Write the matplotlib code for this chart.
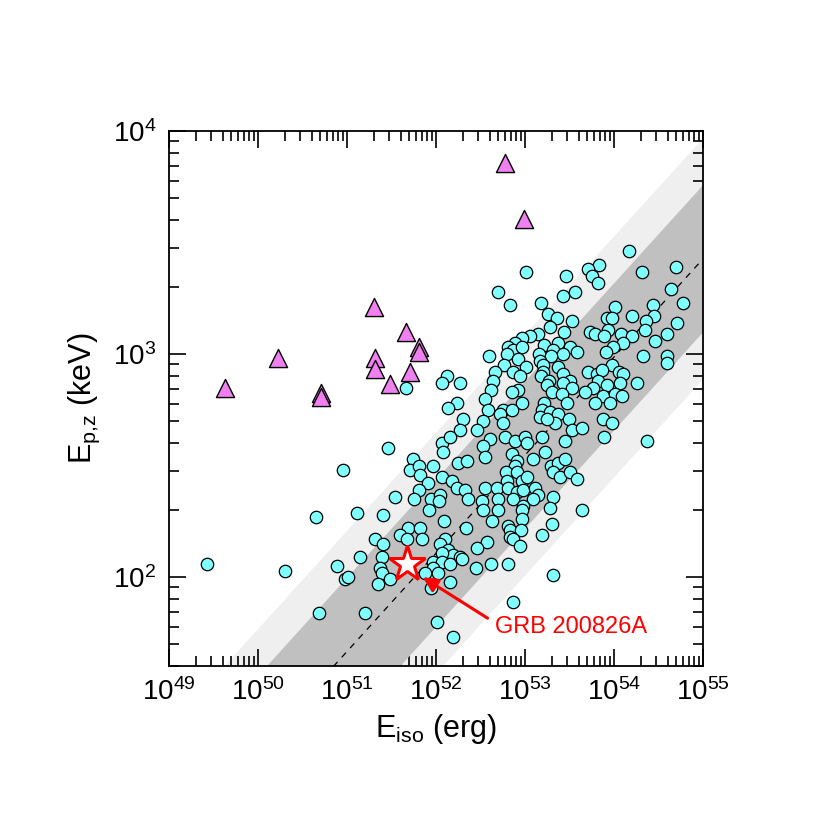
import matplotlib
matplotlib.use('Agg')
import matplotlib.pyplot as plt
import numpy as np
from matplotlib.ticker import FixedLocator, NullFormatter

plt.rcParams['font.family'] = ['Liberation Sans', 'DejaVu Sans']
plt.rcParams['mathtext.fontset'] = 'custom'
plt.rcParams['mathtext.rm'] = 'Liberation Sans'
plt.rcParams['mathtext.it'] = 'Liberation Sans:italic'
plt.rcParams['mathtext.bf'] = 'Liberation Sans:bold'

# log10(Eiso / erg) and log10(Ep,z / keV) of the long GRBs (cyan circles)
circ_logE = [
    # sparse, left
    49.43, 50.30, 50.65, 50.96, 51.11, 50.89, 50.98, 51.01, 51.15, 50.69,
    # upper left of the cluster
    52.12, 52.07, 52.27, 51.66, 52.24, 52.13, 52.30, 52.27,
    # upper middle
    53.01, 53.46, 52.70, 52.83, 53.18, 53.43, 53.56, 53.26, 53.36, 53.53,
    53.28, 53.44, 53.15, 53.06, 52.97, 53.37, 53.51, 53.21, 52.89, 52.81,
    52.87, 52.97, 53.31, 53.58, 52.80, 52.60, 52.92, 53.16, 53.43, 53.29,
    53.17, 53.20, 53.37, 52.76, 53.01, 52.66, 52.87, 52.94, 53.20, 53.18,
    53.43, 53.27, 53.51, 52.64, 53.25, 53.43, 53.53, 52.92, 52.62, 52.85,
    53.30, 53.42, 52.55, 53.47, 53.21, 52.97, 52.75, 52.85, 52.58, 53.19,
    53.28, 53.17, 53.37, 52.72, 53.49, 52.53, 52.75, 53.34, 53.25, 53.53,
    52.46,
    # upper right
    54.17, 53.83, 53.71, 53.75, 53.82, 54.31, 54.70, 54.64, 54.78, 54.01,
    54.44, 54.45, 53.92, 53.98, 54.20, 54.36, 54.71, 53.93, 54.35, 53.73,
    53.79, 53.89, 54.08, 54.20, 54.60, 54.46, 54.10, 53.99, 53.91, 54.33,
    54.60, 54.60, 53.98, 53.71, 53.81, 53.87, 54.06, 54.10, 53.82, 54.07,
    54.26, 53.76, 53.92, 53.67, 53.88, 54.01, 54.09, 53.79, 53.96, 53.88,
    53.98, 53.64, 53.89, 54.37, 53.64,
    # lower left
    51.46, 51.74, 51.71, 51.81, 51.82, 51.97, 52.07, 52.16, 52.08, 52.25,
    52.35, 52.07, 52.18, 52.24, 52.33, 51.91, 51.81, 51.54, 51.75, 51.94,
    52.04, 52.03, 52.36, 51.92, 51.40, 52.09, 51.69, 51.82, 52.34, 51.60,
    51.84, 51.31, 51.40, 51.67, 52.10, 52.04, 52.13, 52.19, 52.27, 52.07,
    51.39, 51.97, 52.07, 52.16, 52.29, 51.37, 51.39, 51.97, 51.88, 52.02,
    51.48, 51.35, 52.16, 51.94, 51.20, 52.01, 52.19,
    # lower middle
    52.61, 52.53, 52.78, 52.89, 53.00, 53.02, 53.19, 53.45, 52.55, 52.85,
    52.91, 53.09, 53.22, 52.89, 53.29, 53.37, 53.45, 53.31, 53.39, 53.51,
    53.58, 52.79, 52.91, 52.97, 53.02, 52.80, 52.55, 52.69, 52.81, 52.91,
    52.98, 53.11, 53.15, 52.52, 52.70, 52.87, 53.09, 53.31, 53.28, 52.70,
    52.53, 52.98, 52.97, 52.63, 52.97, 52.81, 52.83, 53.30, 52.96, 52.83,
    53.19, 52.87, 52.57, 52.94, 52.46, 52.45, 52.62, 52.81, 53.31, 52.87,
]
circ_logEp = [
    2.06, 2.03, 2.27, 2.48, 2.29, 2.05, 1.99, 2.00, 2.09, 1.84,
    2.90, 2.87, 2.87, 2.85, 2.78, 2.76, 2.71, 2.66,
    3.37, 3.35, 3.28, 3.22, 3.23, 3.26, 3.28, 3.18, 3.16, 3.15,
    3.12, 3.10, 3.09, 3.08, 3.07, 3.05, 3.03, 3.04, 3.05, 3.03,
    3.02, 3.03, 3.02, 3.01, 3.00, 2.99, 2.98, 3.00, 3.00, 2.99,
    2.97, 2.95, 2.94, 2.95, 2.94, 2.92, 2.92, 2.90, 2.92, 2.90,
    2.91, 2.88, 2.88, 2.88, 2.86, 2.87, 2.85, 2.84, 2.84, 2.83,
    2.83, 2.82, 2.80, 2.78, 2.78, 2.78, 2.75, 2.75, 2.75, 2.75,
    2.74, 2.72, 2.73, 2.73, 2.71, 2.70, 2.69, 2.69, 2.71, 2.66,
    2.66,
    3.46, 3.40, 3.38, 3.35, 3.32, 3.37, 3.39, 3.29, 3.23, 3.21,
    3.22, 3.17, 3.16, 3.16, 3.17, 3.15, 3.14, 3.11, 3.11, 3.10,
    3.09, 3.08, 3.09, 3.08, 3.09, 3.06, 3.05, 3.03, 3.01, 2.99,
    2.99, 2.96, 2.95, 2.92, 2.91, 2.93, 2.92, 2.91, 2.88, 2.87,
    2.87, 2.85, 2.86, 2.83, 2.81, 2.82, 2.81, 2.78, 2.78, 2.71,
    2.69, 2.67, 2.63, 2.61, 2.30,
    2.58, 2.53, 2.48, 2.50, 2.46, 2.50, 2.60, 2.63, 2.56, 2.51,
    2.52, 2.45, 2.43, 2.40, 2.39, 2.42, 2.39, 2.36, 2.35, 2.35,
    2.37, 2.34, 2.35, 2.30, 2.28, 2.25, 2.22, 2.22, 2.22, 2.19,
    2.17, 2.17, 2.15, 2.17, 2.17, 2.15, 2.12, 2.10, 2.09, 2.11,
    2.09, 2.07, 2.07, 2.06, 2.08, 2.04, 2.02, 2.04, 2.02, 2.02,
    1.99, 1.97, 1.98, 1.95, 1.84, 1.80, 1.73,
    2.62, 2.59, 2.63, 2.61, 2.63, 2.60, 2.63, 2.61, 2.54, 2.55,
    2.52, 2.53, 2.56, 2.50, 2.50, 2.51, 2.53, 2.47, 2.45, 2.47,
    2.44, 2.47, 2.47, 2.43, 2.45, 2.43, 2.40, 2.40, 2.40, 2.38,
    2.39, 2.40, 2.37, 2.34, 2.35, 2.35, 2.35, 2.36, 2.31, 2.30,
    2.30, 2.32, 2.30, 2.25, 2.26, 2.23, 2.21, 2.24, 2.21, 2.18,
    2.19, 2.17, 2.16, 2.14, 2.13, 2.04, 2.06, 2.06, 2.01, 1.89,
]

# short GRBs (magenta triangles)
tri_logE = [49.63, 50.22, 50.71, 50.71, 51.30, 51.31, 51.31, 51.48,
            51.66, 51.81, 51.81, 51.71, 52.78, 52.99]
tri_logEp = [2.848, 2.982, 2.825, 2.807, 3.211, 2.982, 2.933, 2.865,
             3.099, 3.031, 3.009, 2.919, 3.857, 3.605]

# GRB 200826A
star_E = 4.7e51
star_Ep = 115.0

# best-fit relation log Ep = a + b (log Eiso - 52) and its 1/2 sigma widths
fit_a = 2.107
fit_b = 0.44
sig1 = 0.33
sig2 = 0.54

x_decades = np.arange(49, 56)
y_decades = np.arange(1, 5)

fig = plt.figure(figsize=(8.3, 8.23), dpi=100)
ax = fig.add_axes([0.2036, 0.1908, 0.6434, 0.65])

lx = np.linspace(48.5, 55.5, 200)
ly = fit_a + fit_b * (lx - 52)
ax.fill_between(10**lx, 10**(ly - sig2), 10**(ly + sig2), color='#efefef', lw=0, zorder=1)
ax.fill_between(10**lx, 10**(ly - sig1), 10**(ly + sig1), color='#c0c0c0', lw=0, zorder=2)
ax.plot(10**lx, 10**ly, color='black', ls=(0, (5, 5)), lw=0.9, zorder=3)

ax.scatter(10**np.array(circ_logE), 10**np.array(circ_logEp), s=80,
           facecolor='#80ffff', edgecolor='black', linewidth=0.9, zorder=4)
ax.scatter(10**np.array(tri_logE), 10**np.array(tri_logEp), marker='^', s=170,
           facecolor='#f080f0', edgecolor='black', linewidth=1.0, zorder=5)
ax.plot(star_E, star_Ep, marker='*', ms=27, mfc='white', mec='red', mew=2.2,
        ls='none', zorder=6)

ax.annotate('', xy=(7.1e51, 100), xytext=(3.8e52, 65.5),
            arrowprops=dict(arrowstyle='-|>', color='red', lw=2.2,
                            mutation_scale=22, shrinkA=0, shrinkB=0), zorder=7)
ax.text(4.6e52, 59.7, 'GRB 200826A', color='red', fontsize=17,
        ha='left', va='center', zorder=7)

ax.set_xscale('log')
ax.set_yscale('log')
ax.set_xlim(1e49, 1e55)
ax.set_ylim(40, 1e4)

# ticks only inside the view
xmaj = 10.0**x_decades
xmin = [s * 10.0**d for d in x_decades[:-1] for s in range(2, 10)]
ymaj = 10.0**y_decades[1:]
ymin = [s * 10.0**d for d in y_decades[:-1] for s in range(2, 10) if 40 <= s * 10.0**d <= 1e4]
ax.xaxis.set_major_locator(FixedLocator(xmaj))
ax.xaxis.set_minor_locator(FixedLocator(xmin))
ax.yaxis.set_major_locator(FixedLocator(ymaj))
ax.yaxis.set_minor_locator(FixedLocator(ymin))
ax.xaxis.set_minor_formatter(NullFormatter())
ax.yaxis.set_minor_formatter(NullFormatter())

ax.tick_params(which='both', direction='in', top=True, right=True, width=1.2,
               labelsize=20, pad=9)
ax.tick_params(which='major', length=12)
ax.tick_params(which='minor', length=7)
for sp in ax.spines.values():
    sp.set_linewidth(1.3)

ax.set_xlabel(r'E$_{\mathregular{iso}}$ (erg)', fontsize=22, labelpad=4)
ax.set_ylabel(r'E$_{\mathregular{p{,}z}}$ (keV)', fontsize=22, labelpad=8)

fig.savefig('out.png', dpi=100)
